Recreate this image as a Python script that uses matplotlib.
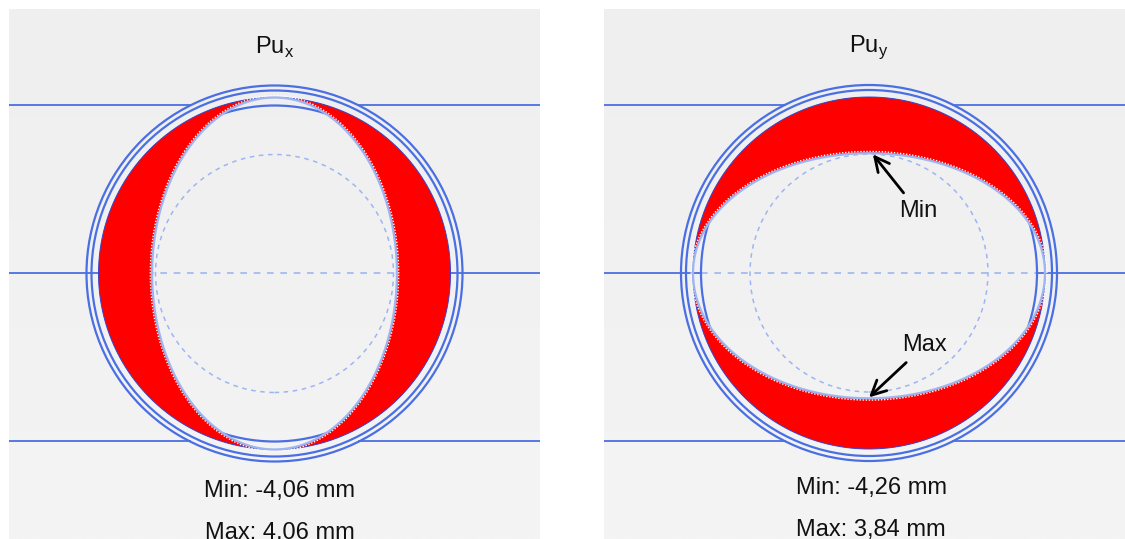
import numpy as np
import matplotlib
matplotlib.use("Agg")
import matplotlib.pyplot as plt
from matplotlib.patches import Circle, PathPatch
from matplotlib.path import Path

plt.rcParams["font.family"] = ["Liberation Sans", "DejaVu Sans"]
plt.rcParams["mathtext.fontset"] = "custom"
plt.rcParams["mathtext.rm"] = "Liberation Sans"

# --- data -------------------------------------------------------------
panel_axes = ["x", "y"]                 # load direction of each panel
min_mm = [-4.06, -4.26]                 # minimum radial displacement
max_mm = [4.06, 3.84]                   # maximum radial displacement
min_labels = ["Min: -4,06 mm", "Min: -4,26 mm"]
max_labels = ["Max: 4,06 mm", "Max: 3,84 mm"]

pipe_radius = 176.0                     # undeformed section (drawing units)
ring_radii = [188.0, 183.0]             # outer double ring
guide_radius = 168.0                    # reference circle / guide lines
inner_radius = 119.0                    # dashed inner circle
deform_scale = 13.2                     # exaggeration, drawing units per mm

# --- styling ----------------------------------------------------------
BLUE = "#4a6fe3"
LIGHT_BLUE = "#9db5f2"
RED = "#ff0000"

W, H = 1125, 539
fig = plt.figure(figsize=(W / 100, H / 100), dpi=100, facecolor="white")

# panel rectangles in pixels (x0, x1, y0, y1) and section centres
panels = [(9, 540, 9, 539), (604, 1125, 9, 539)]
centres = [(274.5, 273.5), (869.0, 273.0)]


def deformed_shape(i, n=720):
    t = np.linspace(0, 2 * np.pi, n)
    if panel_axes[i] == "x":
        a = pipe_radius - max_mm[i] * deform_scale
        x = a * np.cos(t)
        y = pipe_radius * np.sin(t)
    else:
        top = pipe_radius - abs(min_mm[i]) * deform_scale
        bot = pipe_radius - abs(max_mm[i]) * deform_scale
        x = pipe_radius * np.cos(t)
        y = np.where(np.sin(t) >= 0, top, bot) * np.sin(t)
    return x, y


for i, ((x0, x1, y0, y1), (cx, cy)) in enumerate(zip(panels, centres)):
    ax = fig.add_axes([x0 / W, 1 - y1 / H, (x1 - x0) / W, (y1 - y0) / H])
    xl = (x0 - cx, x1 - cx)
    yl = (cy - y1, cy - y0)
    ax.set_xlim(*xl)
    ax.set_ylim(*yl)
    ax.axis("off")

    # soft vertical gradient background
    grad = np.linspace(0, 1, 256).reshape(-1, 1)
    cmap = matplotlib.colors.LinearSegmentedColormap.from_list(
        "bg", ["#f4f4f4", "#efefef"])
    ax.imshow(grad, extent=(xl[0], xl[1], yl[0], yl[1]), origin="lower",
              cmap=cmap, aspect="auto", zorder=0)

    # horizontal guide lines
    r_out = max(ring_radii)
    dx = np.sqrt(r_out ** 2 - guide_radius ** 2)
    for yy in (guide_radius, -guide_radius):
        ax.plot([xl[0], -dx], [yy, yy], color=BLUE, lw=1.3, zorder=1)
        ax.plot([dx, xl[1]], [yy, yy], color=BLUE, lw=1.3, zorder=1)
    ax.plot([xl[0], -guide_radius], [0, 0], color=BLUE, lw=1.3, zorder=1)
    ax.plot([guide_radius, xl[1]], [0, 0], color=BLUE, lw=1.3, zorder=1)
    ax.plot([-guide_radius, guide_radius], [0, 0], color=LIGHT_BLUE,
            lw=1.2, ls=(0, (4, 4)), zorder=1)

    # rings
    for r in ring_radii + [guide_radius]:
        ax.add_patch(Circle((0, 0), r, fill=False, ec=BLUE, lw=1.6, zorder=2))

    # red band between undeformed and deformed section
    t = np.linspace(0, 2 * np.pi, 720)
    ox, oy = pipe_radius * np.cos(t), pipe_radius * np.sin(t)
    ix, iy = deformed_shape(i)
    verts = np.concatenate([np.column_stack([ox, oy]),
                            np.column_stack([ix[::-1], iy[::-1]])])
    codes = np.full(len(verts), Path.LINETO)
    codes[0] = Path.MOVETO
    codes[len(ox)] = Path.MOVETO
    ax.add_patch(PathPatch(Path(verts, codes), fc=RED, ec="none", zorder=3))
    ax.plot(ox, oy, color="#3344cc", lw=0.7, zorder=4)

    # deformed outline with a fine white stipple on the red side
    sx, sy = deformed_shape(i)
    rr = np.hypot(sx, sy)
    ax.plot(sx * (rr + 1.8) / rr, sy * (rr + 1.8) / rr, color="white",
            lw=1.0, ls=(0, (1, 1.2)), zorder=4)
    ax.plot(sx, sy, color=LIGHT_BLUE, lw=1.6, zorder=5)

    # dashed inner circle
    ax.add_patch(Circle((0, 0), inner_radius, fill=False, ec=LIGHT_BLUE,
                        lw=1.1, ls=(0, (3, 3)), zorder=5))

    # title and summary
    ax.text(0, cy - 47, "Pu$_{\\mathrm{%s}}$" % panel_axes[i], ha="center",
            va="center", fontsize=17, color="#111111", zorder=6)
    ax.text(5 if i == 0 else 2, cy - (491 if i == 0 else 488), min_labels[i],
            ha="center", va="center", fontsize=17, color="#111111", zorder=6)
    ax.text(5 if i == 0 else 2, cy - (533 if i == 0 else 530), max_labels[i],
            ha="center", va="center", fontsize=17, color="#111111", zorder=6,
            clip_on=False)

    if panel_axes[i] == "y":
        top = pipe_radius - abs(min_mm[i]) * deform_scale
        bot = pipe_radius - abs(max_mm[i]) * deform_scale
        ax.annotate("Min", xy=(3, top), xytext=(49, 62), ha="center",
                    va="center", fontsize=17, color="#111111",
                    arrowprops=dict(arrowstyle="->", lw=2, color="black",
                                    mutation_scale=26, shrinkA=4, shrinkB=1),
                    zorder=6)
        ax.annotate("Max", xy=(-1, -bot), xytext=(56, -72), ha="center",
                    va="center", fontsize=17, color="#111111",
                    arrowprops=dict(arrowstyle="->", lw=2, color="black",
                                    mutation_scale=26, shrinkA=4, shrinkB=1),
                    zorder=6)

fig.savefig("out.png", dpi=100, facecolor="white")
